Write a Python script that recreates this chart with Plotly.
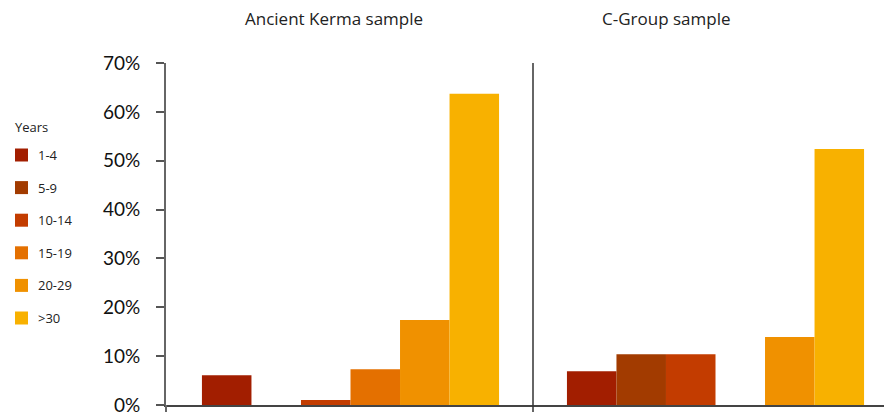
import plotly.graph_objects as go

samples = ["Ancient Kerma sample", "C-Group sample"]
age_groups = ["1-4", "5-9", "10-14", "15-19", "20-29", ">30"]
kerma_values = [6.1, 0.0, 1.0, 7.3, 17.4, 63.7]
cgroup_values = [6.9, 10.4, 10.4, 0.0, 13.9, 52.4]
colors = ["#A21E00", "#A23B00", "#C33C00", "#E47000", "#F09100", "#F8B100"]
y_ticks = [0, 10, 20, 30, 40, 50, 60, 70]
legend_title = "Years"

W, H = 884, 412
ML, MR, MT, MB = 166, 0, 63, 7
PW, PH = W - ML - MR, H - MT - MB

def px2x(px):
    return (px - ML) / PW

def px2y(py):
    return 1 - (py - MT) / PH

fig = go.Figure()
for i, ag in enumerate(age_groups):
    fig.add_trace(go.Bar(
        x=[0, 1], y=[kerma_values[i], cgroup_values[i]], name=ag,
        marker=dict(color=colors[i], line=dict(width=0)),
        showlegend=False, hovertemplate=ag + ": %{y}%<extra></extra>"))

unit = 365.0
x0 = (ML - 350.5) / unit
fig.update_layout(
    width=W, height=H,
    margin=dict(l=ML, r=MR, t=MT, b=MB, pad=0, autoexpand=False),
    paper_bgcolor="white", plot_bgcolor="white",
    barmode="group", bargap=0.186, bargroupgap=0,
    font=dict(family="Open Sans", color="#222"),
    xaxis=dict(range=[x0, x0 + PW / unit], showgrid=False, zeroline=False,
               showticklabels=False, ticks="", showline=True,
               linecolor="#444", linewidth=2, automargin=False),
    yaxis=dict(range=[0, 70], tickvals=y_ticks,
               ticktext=[f"{v}%" for v in y_ticks],
               showgrid=False, zeroline=False, showline=True,
               linecolor="#666", linewidth=2, ticks="outside", ticklen=8,
               tickwidth=2, tickcolor="#555",
               tickfont=dict(family="Lato", size=19, color="#111"),
               ticklabelstandoff=12, ticklabeloverflow="allow",
               automargin=False),
)

shapes = []
# y axis extension below baseline
shapes.append(dict(type="line", xref="paper", yref="paper", x0=0, x1=0,
                   y0=px2y(412), y1=0, line=dict(color="#666", width=2)))
# divider between samples
shapes.append(dict(type="line", xref="x", yref="paper", x0=0.5, x1=0.5,
                   y0=px2y(412), y1=1, line=dict(color="#333", width=1.5)))

annotations = []
title_centers = [334, 666]
for s, cx in zip(samples, title_centers):
    annotations.append(dict(text=s, xref="paper", yref="paper", x=px2x(cx),
                            y=px2y(19), xanchor="center", yanchor="middle",
                            showarrow=False,
                            font=dict(family="Open Sans", size=17, color="#222")))

annotations.append(dict(text=legend_title, xref="paper", yref="paper",
                        x=px2x(13), y=px2y(127), xanchor="left", yanchor="middle",
                        showarrow=False,
                        font=dict(family="Open Sans", size=13, color="#222")))
for i, ag in enumerate(age_groups):
    cy = 155 + i * 32.6
    shapes.append(dict(type="rect", xref="paper", yref="paper",
                       x0=px2x(15), x1=px2x(28), y0=px2y(cy - 6.5), y1=px2y(cy + 6.5),
                       fillcolor=colors[i], line=dict(width=0)))
    annotations.append(dict(text=ag, xref="paper", yref="paper", x=px2x(36),
                            y=px2y(cy), xanchor="left", yanchor="middle",
                            showarrow=False,
                            font=dict(family="Open Sans", size=13, color="#222")))

fig.update_layout(shapes=shapes, annotations=annotations)
fig.write_html("out.html", config={"displayModeBar": False},
               post_script="document.body.style.margin='0';document.body.style.overflow='hidden';")
